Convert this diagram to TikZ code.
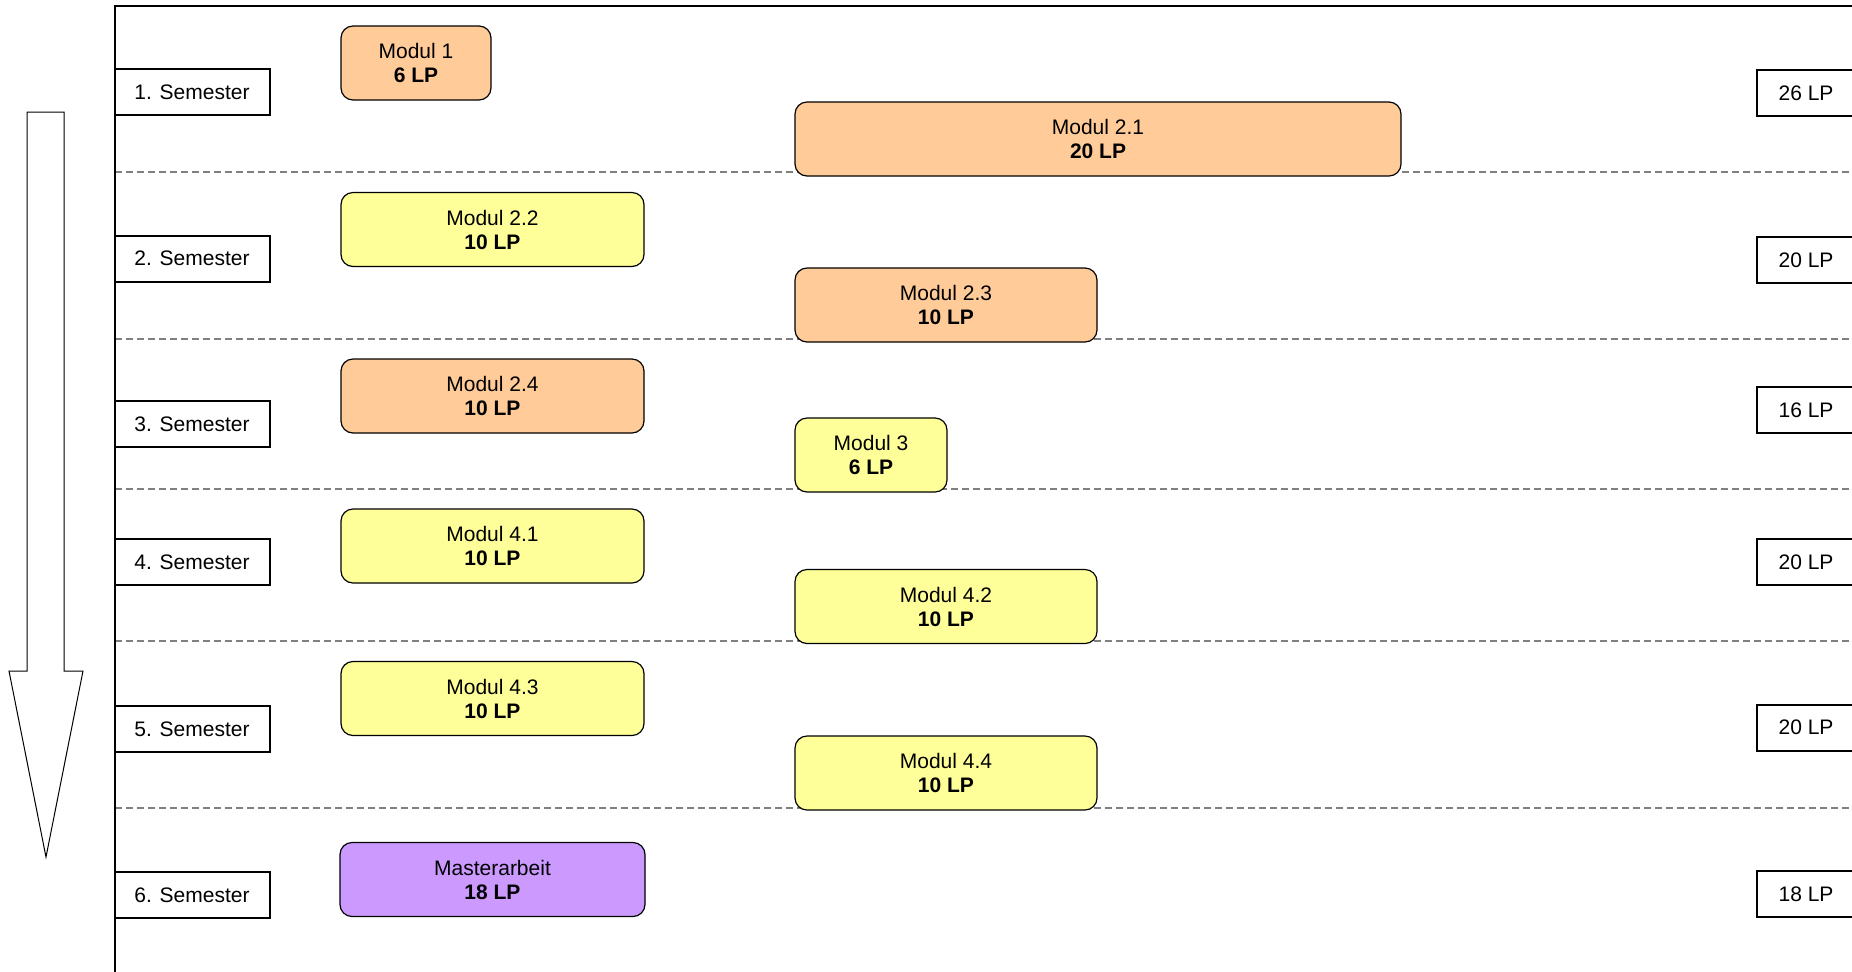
\documentclass[tikz,border=0pt]{standalone}
\usepackage{fontspec}
\setmainfont{Liberation Sans}
\definecolor{orangebox}{HTML}{FFCC99}
\definecolor{yellowbox}{HTML}{FFFF99}
\definecolor{purplebox}{HTML}{CC99FF}
\definecolor{sepgray}{HTML}{808080}
\begin{document}
\begin{tikzpicture}[x=0.5pt,y=-0.5pt,
  txt/.style={font=\fontsize{10.5}{12}\selectfont},
  modbox/.style={txt,draw=black,line width=0.6pt,rounded corners=6pt,inner sep=0pt,align=center,minimum height=37pt},
  orange/.style={modbox,fill=orangebox},
  yellow/.style={modbox,fill=yellowbox},
  purple/.style={modbox,fill=purplebox},
  sembox/.style={txt,draw=black,line width=1pt,fill=white,inner sep=0pt,minimum width=77.5pt,minimum height=23pt},
  lpbox/.style={txt,draw=black,line width=1pt,fill=white,inner sep=0pt,minimum width=49pt,minimum height=23pt},
  sep/.style={draw=sepgray,line width=0.75pt,dash pattern=on 3.5pt off 2pt},
  frame/.style={draw=black,line width=1pt}]
\useasboundingbox (0,0) rectangle (1852,971);
% separators
\foreach \yy in {172,339,489,641,808}
  \draw[sep] (115,\yy) -- (1852,\yy);
% frame
\coordinate (fb) at (115,980);
\coordinate (fc) at (115,6);
\coordinate (fr) at (1870,6);
\draw[frame] (fb) -- (fc) -- (fr);
% arrow
\draw[line width=0.5pt,fill=white] (27,112) -- (64,112) -- (64,671) -- (83,671) -- (46,857) -- (9,671) -- (27,671) -- cycle;
% semester labels
\node[sembox] (s1) at (192,92) {1. Semester};
\node[sembox] (s2) at (192,258.5) {2. Semester};
\node[sembox] (s3) at (192,424) {3. Semester};
\node[sembox] (s4) at (192,562) {4. Semester};
\node[sembox] (s5) at (192,729) {5. Semester};
\node[sembox] (s6) at (192,895) {6. Semester};
% LP totals
\node[lpbox] (l1) at (1806,93) {26 LP};
\node[lpbox] (l2) at (1806,260) {20 LP};
\node[lpbox] (l3) at (1806,410) {16 LP};
\node[lpbox] (l4) at (1806,562) {20 LP};
\node[lpbox] (l5) at (1806,727.5) {20 LP};
\node[lpbox] (l6) at (1806,894) {18 LP};
% modules
\node[orange,minimum width=75pt] (m1) at (416,63) {Modul 1\\\textbf{6 LP}};
\node[orange,minimum width=303pt] (m21) at (1098,139) {Modul 2.1\\\textbf{20 LP}};
\node[yellow,minimum width=151.5pt] (m22) at (492.5,229.5) {Modul 2.2\\\textbf{10 LP}};
\node[orange,minimum width=151pt] (m23) at (946,305) {Modul 2.3\\\textbf{10 LP}};
\node[orange,minimum width=151.5pt] (m24) at (492.5,396) {Modul 2.4\\\textbf{10 LP}};
\node[yellow,minimum width=76pt] (m3) at (871,455) {Modul 3\\\textbf{6 LP}};
\node[yellow,minimum width=151.5pt] (m41) at (492.5,546) {Modul 4.1\\\textbf{10 LP}};
\node[yellow,minimum width=151pt] (m42) at (946,606.5) {Modul 4.2\\\textbf{10 LP}};
\node[yellow,minimum width=151.5pt] (m43) at (492.5,698.5) {Modul 4.3\\\textbf{10 LP}};
\node[yellow,minimum width=151pt] (m44) at (946,773) {Modul 4.4\\\textbf{10 LP}};
\node[purple,minimum width=152.5pt] (ma) at (492.5,879.5) {Masterarbeit\\\textbf{18 LP}};
\end{tikzpicture}
\end{document}
